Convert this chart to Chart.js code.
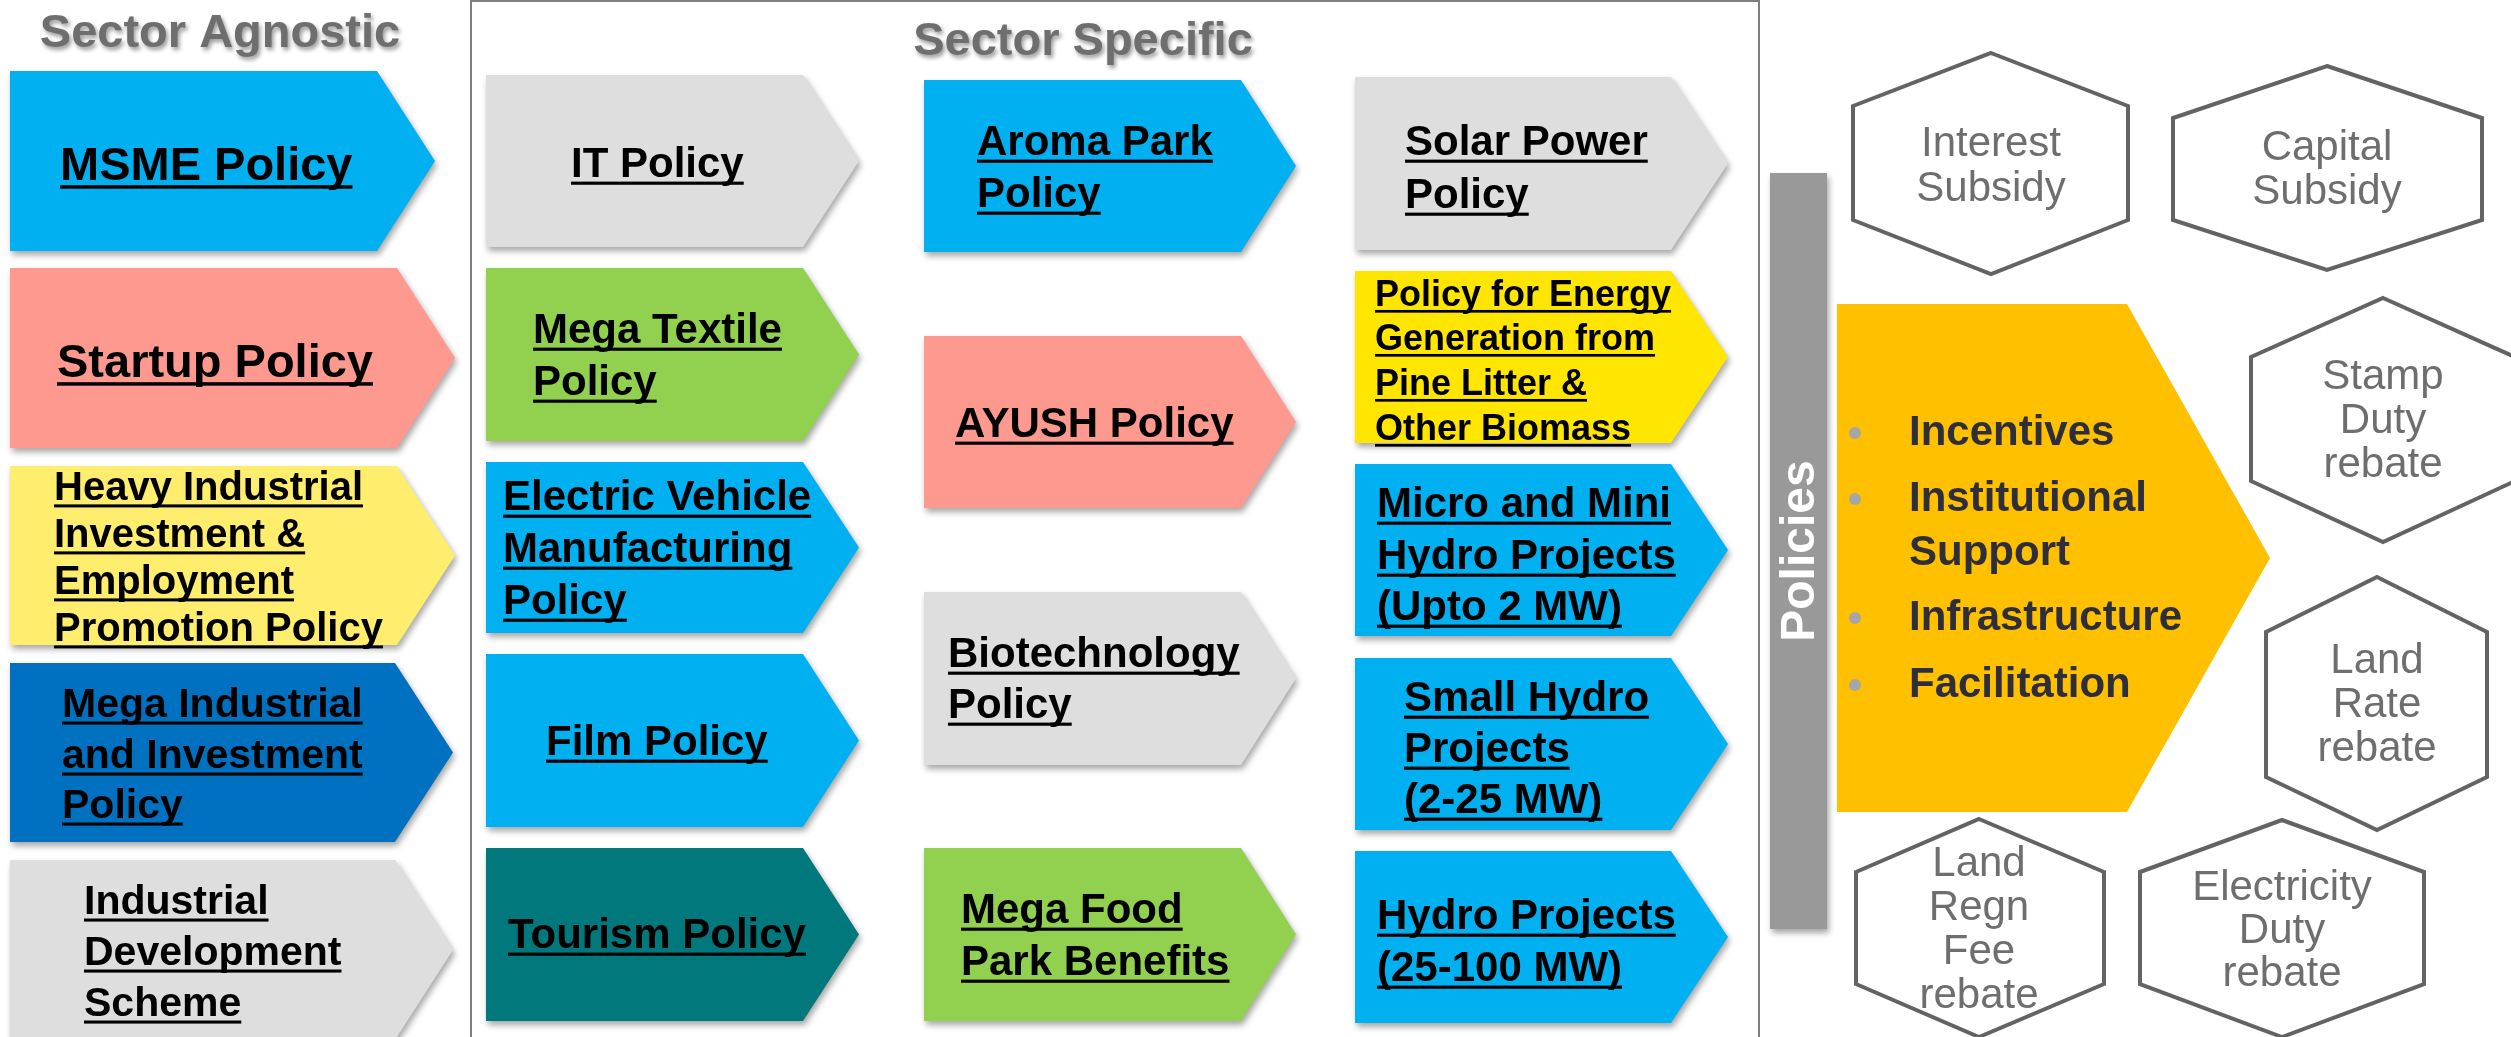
<!DOCTYPE html>
<html>
<head>
<meta charset="utf-8">
<script src="https://cdn.jsdelivr.net/npm/chart.js@4/dist/chart.umd.min.js"></script>
<style>
  html, body { margin: 0; padding: 0; background: #ffffff; overflow: hidden; }
  #wrap { width: 2511px; height: 1037px; }
</style>
</head>
<body>
<div id="wrap"><canvas id="c" width="2511" height="1037"></canvas></div>
<script>
// ---------------- DATA (text content of the diagram) ----------------
const titles = ['Sector Agnostic', 'Sector Specific', 'Policies'];
const sectorAgnostic = [
  ['MSME Policy'],
  ['Startup Policy'],
  ['Heavy Industrial', 'Investment &', 'Employment', 'Promotion Policy'],
  ['Mega Industrial', 'and Investment', 'Policy'],
  ['Industrial', 'Development', 'Scheme']
];
const sectorSpecificA = [
  ['IT Policy'],
  ['Mega Textile', 'Policy'],
  ['Electric Vehicle', 'Manufacturing', 'Policy'],
  ['Film Policy'],
  ['Tourism Policy']
];
const sectorSpecificB = [
  ['Aroma Park', 'Policy'],
  ['AYUSH Policy'],
  ['Biotechnology', 'Policy'],
  ['Mega Food', 'Park Benefits']
];
const sectorSpecificC = [
  ['Solar Power', 'Policy'],
  ['Policy for Energy', 'Generation from', 'Pine Litter &', 'Other Biomass'],
  ['Micro and Mini', 'Hydro Projects', '(Upto 2 MW)'],
  ['Small Hydro', 'Projects', '(2-25 MW)'],
  ['Hydro Projects', '(25-100 MW)']
];
const focusAreas = [['Incentives'], ['Institutional', 'Support'], ['Infrastructure'], ['Facilitation']];
const incentiveTypes = [
  ['Interest', 'Subsidy'],
  ['Capital', 'Subsidy'],
  ['Stamp', 'Duty', 'rebate'],
  ['Land', 'Rate', 'rebate'],
  ['Land', 'Regn', 'Fee', 'rebate'],
  ['Electricity', 'Duty', 'rebate']
];

// ---------------- LAYOUT (geometry & style, in diagram units) ----------------
const FONT = '"Liberation Sans", Arial, Helvetica, sans-serif';
const colGeom = [
  { x0: 10,   body: [377, 397, 397, 395, 395], tip: [435, 455, 455, 453, 453] },
  { x0: 486,  body: 803,  tip: 859 },
  { x0: 924,  body: 1241, tip: 1296 },
  { x0: 1355, body: 1671, tip: 1728 }
];
const agnosticLayout = [
  { y: [71, 251],   fill: '#00B0F0', tx: 60, base: [180], fs: 47 },
  { y: [268, 448],  fill: '#FD998F', tx: 57, base: [377], fs: 47 },
  { y: [466, 645],  fill: '#FFEE6E', tx: 54, base: [500, 547, 594, 641], fs: 40 },
  { y: [663, 842],  fill: '#0070C0', tx: 62, base: [717, 768, 818], fs: 41 },
  { y: [860, 1040], fill: '#DEDEDE', tx: 84, base: [914, 965, 1016], fs: 41 }
];
const specALayout = [
  { y: [75, 247],   fill: '#DEDEDE', tx: 571, base: [177], fs: 42 },
  { y: [268, 441],  fill: '#92D050', tx: 533, base: [343, 395], fs: 42 },
  { y: [462, 633],  fill: '#00B0F0', tx: 503, base: [510, 562, 614], fs: 42 },
  { y: [654, 827],  fill: '#00B0F0', tx: 546, base: [755], fs: 42 },
  { y: [848, 1021], fill: '#00787C', tx: 508, base: [948], fs: 42 }
];
const specBLayout = [
  { y: [80, 252],   fill: '#00B0F0', tx: 977, base: [155, 207], fs: 42 },
  { y: [336, 508],  fill: '#FD998F', tx: 955, base: [437], fs: 42 },
  { y: [592, 765],  fill: '#DEDEDE', tx: 948, base: [667, 718], fs: 42 },
  { y: [848, 1021], fill: '#92D050', tx: 961, base: [923, 975], fs: 42 }
];
const specCLayout = [
  { y: [77, 250],   fill: '#DEDEDE', tx: 1405, base: [155, 208], fs: 42 },
  { y: [271, 443],  fill: '#FFE600', tx: 1375, base: [306, 350, 395, 440], fs: 36 },
  { y: [464, 636],  fill: '#00B0F0', tx: 1377, base: [517, 569, 620], fs: 42 },
  { y: [658, 830],  fill: '#00B0F0', tx: 1404, base: [711, 762, 813], fs: 42 },
  { y: [851, 1023], fill: '#00B0F0', tx: 1377, base: [929, 981], fs: 42 }
];
const hexLayout = [
  { l: 1853, r: 2128, cx: 1991, t: 53,  st: 106, sb: 220, b: 274,  mid: [142, 187] },
  { l: 2173, r: 2482, cx: 2327, t: 66,  st: 118, sb: 220, b: 270,  mid: [146, 190] },
  { l: 2251, r: 2515, cx: 2383, t: 298, st: 357, sb: 481, b: 542,  mid: [375, 419, 463] },
  { l: 2266, r: 2487, cx: 2377, t: 577, st: 632, sb: 777, b: 830,  mid: [659, 703, 747] },
  { l: 1856, r: 2104, cx: 1979, t: 819, st: 872, sb: 984, b: 1037, mid: [862, 906, 950, 994] },
  { l: 2140, r: 2424, cx: 2282, t: 820, st: 872, sb: 984, b: 1037, mid: [886, 929, 972] }
];
const focusLayout = { x0: 1837, body: 2127, tip: 2270, y: [304, 812], dotX: 1855, tx: 1909,
                      mid: [[433], [499, 553], [618], [685]], fs: 42 };
const policiesBar = { x: [1770, 1827], y: [173, 929] };
const frame = { x: [471, 1759], y: [1, 1037] };

// ---------------- CHART ----------------
const diagramPlugin = {
  id: 'policyDiagram',
  beforeDraw(chart) {
    const ctx = chart.ctx;
    ctx.save();
    ctx.fillStyle = '#ffffff';
    ctx.fillRect(0, 0, chart.width, chart.height);
    ctx.restore();
  },
  afterDatasetsDraw(chart) {
    const ctx = chart.ctx;
    const xs = chart.scales.x, ys = chart.scales.y;
    const X = v => xs.getPixelForValue(v);
    const Y = v => ys.getPixelForValue(v);

    function chevron(x0, body, tip, y0, y1, fill, shadow) {
      ctx.save();
      if (shadow) {
        ctx.shadowColor = 'rgba(0,0,0,0.35)';
        ctx.shadowBlur = 6; ctx.shadowOffsetX = 2; ctx.shadowOffsetY = 4;
      }
      ctx.beginPath();
      ctx.moveTo(X(x0), Y(y0));
      ctx.lineTo(X(body), Y(y0));
      ctx.lineTo(X(tip), Y((y0 + y1) / 2));
      ctx.lineTo(X(body), Y(y1));
      ctx.lineTo(X(x0), Y(y1));
      ctx.closePath();
      ctx.fillStyle = fill;
      ctx.fill();
      ctx.restore();
    }
    function underlinedLines(lines, tx, bases, fs) {
      ctx.save();
      ctx.font = 'bold ' + fs + 'px ' + FONT;
      ctx.fillStyle = '#000000';
      ctx.textAlign = 'left';
      ctx.textBaseline = 'alphabetic';
      lines.forEach((ln, i) => {
        const bx = X(tx), by = Y(bases[i]);
        ctx.fillText(ln, bx, by);
        const w = ctx.measureText(ln).width;
        ctx.fillRect(bx, by + fs * 0.11, w, Math.max(2.5, fs * 0.075));
      });
      ctx.restore();
    }
    function drawColumn(texts, layout, geom) {
      texts.forEach((lines, i) => {
        const L = layout[i];
        const body = Array.isArray(geom.body) ? geom.body[i] : geom.body;
        const tip = Array.isArray(geom.tip) ? geom.tip[i] : geom.tip;
        chevron(geom.x0, body, tip, L.y[0], L.y[1], L.fill, true);
        underlinedLines(lines, L.tx, L.base, L.fs);
      });
    }

    // frame around sector specific
    ctx.save();
    ctx.strokeStyle = '#7F7F7F';
    ctx.lineWidth = 2;
    ctx.beginPath();
    ctx.moveTo(X(frame.x[0]), Y(frame.y[1]));
    ctx.lineTo(X(frame.x[0]), Y(frame.y[0]));
    ctx.lineTo(X(frame.x[1]), Y(frame.y[0]));
    ctx.lineTo(X(frame.x[1]), Y(frame.y[1]));
    ctx.stroke();
    ctx.restore();

    // titles
    ctx.save();
    ctx.font = 'bold 47px ' + FONT;
    ctx.fillStyle = '#6E6E6E';
    ctx.textAlign = 'center';
    ctx.textBaseline = 'alphabetic';
    ctx.shadowColor = 'rgba(0,0,0,0.4)';
    ctx.shadowBlur = 4; ctx.shadowOffsetX = 2; ctx.shadowOffsetY = 3;
    ctx.fillText(titles[0], X(220), Y(47));
    ctx.fillText(titles[1], X(1083), Y(55));
    ctx.restore();

    drawColumn(sectorAgnostic, agnosticLayout, colGeom[0]);
    drawColumn(sectorSpecificA, specALayout, colGeom[1]);
    drawColumn(sectorSpecificB, specBLayout, colGeom[2]);
    drawColumn(sectorSpecificC, specCLayout, colGeom[3]);

    // Policies bar
    ctx.save();
    ctx.shadowColor = 'rgba(0,0,0,0.35)';
    ctx.shadowBlur = 6; ctx.shadowOffsetX = 2; ctx.shadowOffsetY = 4;
    ctx.fillStyle = '#999999';
    ctx.fillRect(X(policiesBar.x[0]), Y(policiesBar.y[0]),
                 X(policiesBar.x[1]) - X(policiesBar.x[0]), Y(policiesBar.y[1]) - Y(policiesBar.y[0]));
    ctx.restore();
    ctx.save();
    ctx.translate(X((policiesBar.x[0] + policiesBar.x[1]) / 2), Y((policiesBar.y[0] + policiesBar.y[1]) / 2));
    ctx.rotate(-Math.PI / 2);
    ctx.font = 'bold 48px ' + FONT;
    ctx.fillStyle = '#ffffff';
    ctx.textAlign = 'center';
    ctx.textBaseline = 'middle';
    ctx.fillText(titles[2], 0, 2);
    ctx.restore();

    // Focus area chevron
    const F = focusLayout;
    chevron(F.x0, F.body, F.tip, F.y[0], F.y[1], '#FFC000', false);
    ctx.save();
    ctx.font = 'bold ' + F.fs + 'px ' + FONT;
    ctx.fillStyle = '#2D2E3A';
    ctx.textAlign = 'left';
    ctx.textBaseline = 'middle';
    focusAreas.forEach((lines, i) => {
      ctx.save();
      ctx.fillStyle = '#A6A6A6';
      ctx.beginPath();
      ctx.arc(X(F.dotX), Y(F.mid[i][0]), 6, 0, Math.PI * 2);
      ctx.fill();
      ctx.restore();
      lines.forEach((ln, j) => ctx.fillText(ln, X(F.tx), Y(F.mid[i][j])));
    });
    ctx.restore();

    // Hexagons
    incentiveTypes.forEach((lines, i) => {
      const H = hexLayout[i];
      ctx.save();
      ctx.beginPath();
      ctx.moveTo(X(H.cx), Y(H.t));
      ctx.lineTo(X(H.r), Y(H.st));
      ctx.lineTo(X(H.r), Y(H.sb));
      ctx.lineTo(X(H.cx), Y(H.b));
      ctx.lineTo(X(H.l), Y(H.sb));
      ctx.lineTo(X(H.l), Y(H.st));
      ctx.closePath();
      ctx.fillStyle = '#ffffff';
      ctx.fill();
      ctx.strokeStyle = '#636363';
      ctx.lineWidth = 4;
      ctx.lineJoin = 'miter';
      ctx.stroke();
      ctx.font = '42px ' + FONT;
      ctx.fillStyle = '#6E6E6E';
      ctx.textAlign = 'center';
      ctx.textBaseline = 'middle';
      lines.forEach((ln, j) => ctx.fillText(ln, X(H.cx), Y(H.mid[j] + 2)));
      ctx.restore();
    });
  }
};

// anchor points: one per shape (centre of each shape), drawn invisibly
const anchors = [];
agnosticLayout.forEach(L => anchors.push({ x: 220, y: (L.y[0] + L.y[1]) / 2 }));
hexLayout.forEach(H => anchors.push({ x: H.cx, y: (H.t + H.b) / 2 }));

new Chart(document.getElementById('c'), {
  type: 'scatter',
  data: { datasets: [{ data: anchors, pointRadius: 0, showLine: false }] },
  options: {
    responsive: false,
    animation: false,
    events: [],
    layout: { padding: 0 },
    plugins: { legend: { display: false }, tooltip: { enabled: false }, title: { display: false } },
    scales: {
      x: { type: 'linear', min: 0, max: 2511, display: false },
      y: { type: 'linear', min: 0, max: 1037, reverse: true, display: false }
    }
  },
  plugins: [diagramPlugin]
});
</script>
</body>
</html>
